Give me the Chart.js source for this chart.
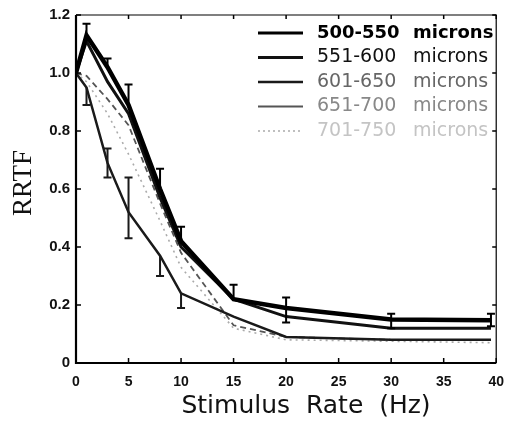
<!DOCTYPE html>
<html>
<head>
<meta charset="utf-8">
<script src="https://cdn.jsdelivr.net/npm/chart.js@4.4.1/dist/chart.umd.min.js"></script>
<style>
html, body { margin: 0; padding: 0; background: #fff; }
</style>
</head>
<body>
<canvas id="rrtfChart" width="515" height="438"></canvas>
<script>
// Stimulus rates (Hz)
const rates = [0, 1, 3, 5, 8, 10, 15, 20, 30, 39.5];
const seriesNames = ["500-550  microns", "551-600  microns", "601-650  microns", "651-700  microns", "701-750  microns"];
const yTicks = [0, 0.2, 0.4, 0.6, 0.8, 1.0, 1.2];

// RRTF per depth group
const rrtf500 = [1.0, 1.13, 1.02, 0.89, 0.60, 0.42, 0.22, 0.19, 0.15, 0.147];
const rrtf551 = [1.0, 1.11, 0.97, 0.86, 0.57, 0.40, 0.22, 0.16, 0.12, 0.12];
const rrtf601 = [1.0, 0.95, 0.69, 0.52, 0.37, 0.24, 0.16, 0.09, 0.08, 0.08];
const rrtf651 = [1.0, 0.99, 0.91, 0.82, 0.55, 0.38, 0.13, 0.09, 0.08, 0.08];
const rrtf701 = [1.0, 0.97, 0.86, 0.72, 0.49, 0.33, 0.12, 0.08, 0.075, 0.07];

// error bars (null = none)
const err500Up   = [null, 0.04, 0.03, 0.07, 0.07, 0.05, 0.05, 0.036, 0.02, 0.023];
const err500Down = [null, null, null, null, null, null, null, 0.05, 0.03, 0.02];
const err601Up   = [null, null, 0.05, 0.12, null, null, null, null, null, null];
const err601Down = [null, 0.06, 0.05, 0.09, 0.07, 0.05, null, null, null, null];

function pts(vals) {
    return rates.map((x, i) => ({ x: x, y: vals[i] }));
}

const datasets = [
    { label: seriesNames[0], data: pts(rrtf500), borderColor: "#000", borderWidth: 4.5,
      errUp: err500Up, errDown: err500Down, textColor: "#000", bold: true },
    { label: seriesNames[1], data: pts(rrtf551), borderColor: "#111", borderWidth: 3,
      textColor: "#111" },
    { label: seriesNames[2], data: pts(rrtf601), borderColor: "#1a1a1a", borderWidth: 2.5,
      errUp: err601Up, errDown: err601Down, textColor: "#666" },
    { label: seriesNames[3], data: pts(rrtf651), borderColor: "#555", borderWidth: 1.8,
      borderDash: [6, 4], textColor: "#888" },
    { label: seriesNames[4], data: pts(rrtf701), borderColor: "#aaa", borderWidth: 1.6,
      borderDash: [2, 4], textColor: "#c4c4c4" },
];
datasets.forEach(d => { d.fill = false; d.pointRadius = 0; d.tension = 0; });

// frame, inward ticks, error bars, titles, legend
const decorations = {
    id: "decorations",
    afterDatasetsDraw(chart) {
        const ctx = chart.ctx;
        const xs = chart.scales.x, ys = chart.scales.y;
        const a = chart.chartArea;
        ctx.save();

        // error bars
        chart.data.datasets.forEach(ds => {
            if (!ds.errUp && !ds.errDown) return;
            ctx.strokeStyle = ds.borderColor;
            ctx.lineWidth = 2;
            ds.data.forEach((p, i) => {
                const up = ds.errUp ? ds.errUp[i] : null;
                const dn = ds.errDown ? ds.errDown[i] : null;
                if (up == null && dn == null) return;
                const px = xs.getPixelForValue(p.x);
                const y0 = ys.getPixelForValue(p.y + (up || 0));
                const y1 = ys.getPixelForValue(p.y - (dn || 0));
                ctx.beginPath();
                ctx.moveTo(px, y0); ctx.lineTo(px, y1);
                if (up != null) { ctx.moveTo(px - 4, y0); ctx.lineTo(px + 4, y0); }
                if (dn != null) { ctx.moveTo(px - 4, y1); ctx.lineTo(px + 4, y1); }
                ctx.stroke();
            });
        });

        // frame
        ctx.strokeStyle = "#000";
        ctx.lineWidth = 1.2;
        ctx.beginPath();
        ctx.moveTo(a.left, a.top); ctx.lineTo(a.right, a.top); ctx.lineTo(a.right, a.bottom);
        ctx.stroke();
        ctx.lineWidth = 2.2;
        ctx.beginPath();
        ctx.moveTo(a.left, a.top); ctx.lineTo(a.left, a.bottom); ctx.lineTo(a.right, a.bottom);
        ctx.stroke();

        // inward ticks
        ctx.lineWidth = 1.5;
        ctx.beginPath();
        xs.ticks.forEach(t => {
            const px = xs.getPixelForValue(t.value);
            ctx.moveTo(px, a.bottom); ctx.lineTo(px, a.bottom - 5);
            ctx.moveTo(px, a.top); ctx.lineTo(px, a.top + 4);
        });
        ys.ticks.forEach(t => {
            const py = ys.getPixelForValue(t.value);
            ctx.moveTo(a.left, py); ctx.lineTo(a.left + 5, py);
            ctx.moveTo(a.right, py); ctx.lineTo(a.right - 4, py);
        });
        ctx.stroke();

        // axis titles
        ctx.fillStyle = "#111";
        ctx.textAlign = "center";
        ctx.textBaseline = "middle";
        ctx.font = "25px 'DejaVu Sans'";
        ctx.fillText("Stimulus  Rate  (Hz)", 306, 406);
        ctx.save();
        ctx.translate(24, 183);
        ctx.rotate(-Math.PI / 2);
        ctx.font = "27px 'Liberation Serif'";
        ctx.fillText("RRTF", 0, 0);
        ctx.restore();

        // legend: range at 317, unit word at 413
        ctx.textAlign = "left";
        chart.data.datasets.forEach((ds, i) => {
            const y = 33 + i * 24.5;
            ctx.strokeStyle = ds.borderColor;
            ctx.lineWidth = Math.min(ds.borderWidth, 3);
            ctx.setLineDash(i === 4 ? [2, 3] : []);
            ctx.beginPath();
            ctx.moveTo(258, y); ctx.lineTo(303, y);
            ctx.stroke();
            ctx.setLineDash([]);
            ctx.fillStyle = ds.textColor;
            ctx.font = (ds.bold ? "bold 18px" : "19px") + " 'DejaVu Sans'";
            const parts = ds.label.split(/\s+/);
            ctx.fillText(parts[0], 317, y);
            ctx.fillText(parts[1], 413, y);
        });
        ctx.restore();
    }
};

const ctx = document.getElementById("rrtfChart").getContext("2d");
new Chart(ctx, {
    type: "line",
    data: { datasets: datasets },
    options: {
        responsive: false,
        animation: false,
        layout: { padding: { top: 12, right: 13, left: 0, bottom: 0 } },
        plugins: { legend: { display: false }, tooltip: { enabled: false } },
        scales: {
            x: {
                type: "linear",
                min: 0, max: 40,
                grid: { display: false, drawTicks: false },
                border: { display: false },
                ticks: { stepSize: 5, padding: 11, color: "#111",
                         font: { family: "'Liberation Sans'", size: 14, weight: "bold" } },
                afterFit: s => { s.height = 75; }
            },
            y: {
                min: 0, max: 1.2,
                grid: { display: false, drawTicks: false },
                border: { display: false },
                afterBuildTicks: s => { s.ticks = yTicks.map(v => ({ value: v })); },
                ticks: { padding: 6, color: "#111",
                         font: { family: "'Liberation Sans'", size: 15, weight: "bold" },
                         callback: v => (v === 0 ? "0" : v.toFixed(1)) },
                afterFit: s => { s.width = 76; }
            }
        }
    },
    plugins: [decorations]
});
</script>
</body>
</html>
